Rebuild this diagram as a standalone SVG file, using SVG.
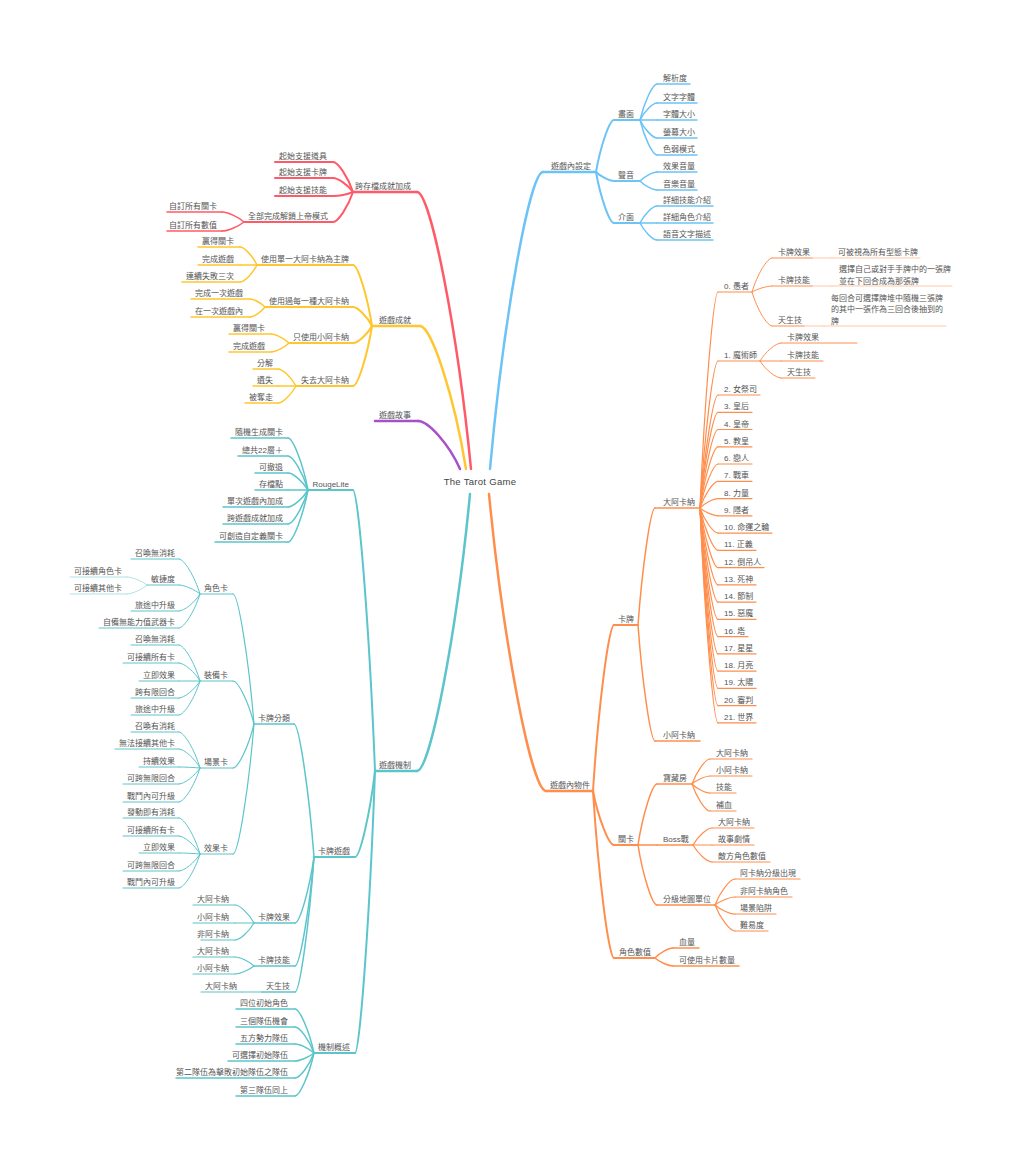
<svg xmlns="http://www.w3.org/2000/svg" width="1024" height="1169" viewBox="0 0 1024 1169">
<style>
.t{font-family:"Liberation Sans","Noto Sans CJK TC",sans-serif;font-size:8px;fill:#555}
.e{text-anchor:end}
.ctr{font-size:9.5px;fill:#444;text-anchor:middle;letter-spacing:0.3px}
path{fill:none;stroke-linecap:round}
.B{stroke:#6BC3F6}.O{stroke:#FF8E4D}.R{stroke:#FF5A67}.Y{stroke:#FFC62F}.P{stroke:#A94FC9}.G{stroke:#5CC5CC}
.w1{stroke-width:2.5}.w2{stroke-width:2}.w3{stroke-width:1.5}.w4{stroke-width:1.2}.w5{stroke-width:1}.w6{stroke-width:0.9;stroke-opacity:.55}
</style>
<rect width="1024" height="1169" fill="#fff"/>
<g id="connectors">
<path class="B w1" d="M490 469 C503.25 320.5 529.75 172 543 172"/>
<path class="O w1" d="M489 494 C503.25 642.5 531.75 791 546 791"/>
<path class="R w1" d="M471 469 C457.5 330.5 430.5 192 417 192"/>
<path class="Y w1" d="M466 469 C454.5 397.5 431.5 326 420 326"/>
<path class="P w1" d="M460 469 C449.5 445 428.5 421 418 421"/>
<path class="G w1" d="M470 494 C456.75 632.5 430.25 771 417 771"/>
<path class="B w2" d="M596 172 C600.5 146 609.5 120 614 120"/>
<path class="B w2" d="M596 172 C600.5 176.5 609.5 181 614 181"/>
<path class="B w2" d="M596 172 C600.5 197.5 609.5 223 614 223"/>
<path class="B w3" d="M640 120 C644.25 102 652.75 84 657 84"/>
<path class="B w3" d="M640 120 C644.25 111.5 652.75 103 657 103"/>
<path class="B w3" d="M640 120 H657"/>
<path class="B w3" d="M640 120 C644.25 129 652.75 138 657 138"/>
<path class="B w3" d="M640 120 C644.25 137.5 652.75 155 657 155"/>
<path class="B w3" d="M640 181 C644.25 176.5 652.75 172 657 172"/>
<path class="B w3" d="M640 181 C644.25 185.5 652.75 190 657 190"/>
<path class="B w3" d="M640 223 C644.25 214.5 652.75 206 657 206"/>
<path class="B w3" d="M640 223 H657"/>
<path class="B w3" d="M640 223 C644.25 231.5 652.75 240 657 240"/>
<path class="O w2" d="M593 791 C598.25 708 608.75 625 614 625"/>
<path class="O w2" d="M593 791 C598.25 818 608.75 845 614 845"/>
<path class="O w2" d="M593 791 C598.25 874.5 608.75 958 614 958"/>
<path class="O w3" d="M638 625 C642.25 566.5 650.75 508 655 508"/>
<path class="O w3" d="M638 625 C642.25 683 650.75 741 655 741"/>
<path class="O w3" d="M638 845 C642.75 814.5 652.25 784 657 784"/>
<path class="O w3" d="M638 845 H657"/>
<path class="O w3" d="M638 845 C642.75 875 652.25 905 657 905"/>
<path class="O w3" d="M655 958 C659.5 953 668.5 948 673 948"/>
<path class="O w3" d="M655 958 C659.5 962 668.5 966 673 966"/>
<path class="O w4" d="M700 508 C704.5 400 713.5 292 718 292"/>
<path class="O w4" d="M700 508 C704.5 434.5 713.5 361 718 361"/>
<path class="O w4" d="M700 508 C704.5 451.5 713.5 395 718 395"/>
<path class="O w4" d="M700 508 C704.5 460.2 713.5 412.3 718 412.3"/>
<path class="O w4" d="M700 508 C704.5 468.8 713.5 429.5 718 429.5"/>
<path class="O w4" d="M700 508 C704.5 477.4 713.5 446.8 718 446.8"/>
<path class="O w4" d="M700 508 C704.5 486 713.5 464 718 464"/>
<path class="O w4" d="M700 508 C704.5 494.7 713.5 481.3 718 481.3"/>
<path class="O w4" d="M700 508 C704.5 503.3 713.5 498.6 718 498.6"/>
<path class="O w4" d="M700 508 C704.5 511.9 713.5 515.8 718 515.8"/>
<path class="O w4" d="M700 508 C704.5 520.6 713.5 533.1 718 533.1"/>
<path class="O w4" d="M700 508 C704.5 529.2 713.5 550.3 718 550.3"/>
<path class="O w4" d="M700 508 C704.5 537.8 713.5 567.6 718 567.6"/>
<path class="O w4" d="M700 508 C704.5 546.5 713.5 584.9 718 584.9"/>
<path class="O w4" d="M700 508 C704.5 555.1 713.5 602.1 718 602.1"/>
<path class="O w4" d="M700 508 C704.5 563.7 713.5 619.4 718 619.4"/>
<path class="O w4" d="M700 508 C704.5 572.3 713.5 636.6 718 636.6"/>
<path class="O w4" d="M700 508 C704.5 581 713.5 653.9 718 653.9"/>
<path class="O w4" d="M700 508 C704.5 589.6 713.5 671.2 718 671.2"/>
<path class="O w4" d="M700 508 C704.5 598.2 713.5 688.4 718 688.4"/>
<path class="O w4" d="M700 508 C704.5 606.9 713.5 705.7 718 705.7"/>
<path class="O w4" d="M700 508 C704.5 615.5 713.5 722.9 718 722.9"/>
<path class="O w4" d="M692 784 C696.5 771.5 705.5 759 710 759"/>
<path class="O w4" d="M692 784 C696.5 780 705.5 776 710 776"/>
<path class="O w4" d="M692 784 C696.5 788.5 705.5 793 710 793"/>
<path class="O w4" d="M692 784 C696.5 797.5 705.5 811 710 811"/>
<path class="O w4" d="M693 845 C697.75 836.5 707.25 828 712 828"/>
<path class="O w4" d="M693 845 H712"/>
<path class="O w4" d="M693 845 C697.75 853.5 707.25 862 712 862"/>
<path class="O w4" d="M715 905 C720 892 730 879 735 879"/>
<path class="O w4" d="M715 905 C720 901 730 897 735 897"/>
<path class="O w4" d="M715 905 C720 909.5 730 914 735 914"/>
<path class="O w4" d="M715 905 C720 918 730 931 735 931"/>
<path class="O w5" d="M752 292 C757 275 767 258 772 258"/>
<path class="O w5" d="M752 292 C757 289 767 286 772 286"/>
<path class="O w5" d="M752 292 C757 309 767 326 772 326"/>
<path class="O w5" d="M760 361 C765.25 352 775.75 343 781 343"/>
<path class="O w5" d="M760 361 H781"/>
<path class="O w5" d="M760 361 C765.25 369.5 775.75 378 781 378"/>
<path class="O w6" d="M812 258 H832"/>
<path class="O w6" d="M812 286 H832"/>
<path class="O w6" d="M804 326 H824"/>
<path class="R w2" d="M353 192 C348 177 338 162 333 162"/>
<path class="R w2" d="M353 192 C348 185 338 178 333 178"/>
<path class="R w2" d="M353 192 C348 194 338 196 333 196"/>
<path class="R w2" d="M353 192 C348 207 338 222 333 222"/>
<path class="R w3" d="M244 222 C238.5 217 227.5 212 222 212"/>
<path class="R w3" d="M244 222 C238.5 226.5 227.5 231 222 231"/>
<path class="Y w2" d="M372 326 C367.25 295.5 357.75 265 353 265"/>
<path class="Y w2" d="M372 326 C367.25 316.5 357.75 307 353 307"/>
<path class="Y w2" d="M372 326 C367.25 334.5 357.75 343 353 343"/>
<path class="Y w2" d="M372 326 C367.25 356 357.75 386 353 386"/>
<path class="Y w3" d="M257 265 C252.75 256 244.25 247 240 247"/>
<path class="Y w3" d="M257 265 H240"/>
<path class="Y w3" d="M257 265 C252.75 273.5 244.25 282 240 282"/>
<path class="Y w3" d="M265 307 C261.25 303 253.75 299 250 299"/>
<path class="Y w3" d="M265 307 C261.25 312 253.75 317 250 317"/>
<path class="Y w3" d="M289 343 C284.5 338.5 275.5 334 271 334"/>
<path class="Y w3" d="M289 343 C284.5 347.5 275.5 352 271 352"/>
<path class="Y w3" d="M296 386 C291.5 377.5 282.5 369 278 369"/>
<path class="Y w3" d="M296 386 H278"/>
<path class="Y w3" d="M296 386 C291.5 394.5 282.5 403 278 403"/>
<path class="G w2" d="M375 771 C369.5 630.5 358.5 490 353 490"/>
<path class="G w2" d="M375 771 C370 814 360 857 355 857"/>
<path class="G w2" d="M375 771 C370 912 360 1053 355 1053"/>
<path class="G w3" d="M308 490 C303 464 293 438 288 438"/>
<path class="G w3" d="M308 490 C303 473 293 456 288 456"/>
<path class="G w3" d="M308 490 C303 481.5 293 473 288 473"/>
<path class="G w3" d="M308 490 H288"/>
<path class="G w3" d="M308 490 C303 498.5 293 507 288 507"/>
<path class="G w3" d="M308 490 C303 507 293 524 288 524"/>
<path class="G w3" d="M308 490 C303 516 293 542 288 542"/>
<path class="G w3" d="M314 857 C309 790.5 299 724 294 724"/>
<path class="G w3" d="M314 857 C309.25 890 299.75 923 295 923"/>
<path class="G w3" d="M314 857 C309.25 911.5 299.75 966 295 966"/>
<path class="G w3" d="M314 857 C309.25 924.5 299.75 992 295 992"/>
<path class="G w3" d="M314 1053 C309.25 1031 299.75 1009 295 1009"/>
<path class="G w3" d="M314 1053 C309.25 1040 299.75 1027 295 1027"/>
<path class="G w3" d="M314 1053 C309.25 1048.5 299.75 1044 295 1044"/>
<path class="G w3" d="M314 1053 C309.25 1057 299.75 1061 295 1061"/>
<path class="G w3" d="M314 1053 C309.25 1065.5 299.75 1078 295 1078"/>
<path class="G w3" d="M314 1053 C309.25 1074.5 299.75 1096 295 1096"/>
<path class="G w4" d="M254 724 C248.75 659 238.25 594 233 594"/>
<path class="G w4" d="M254 724 C248.75 702.5 238.25 681 233 681"/>
<path class="G w4" d="M254 724 C248.75 746 238.25 768 233 768"/>
<path class="G w4" d="M254 724 C248.75 789 238.25 854 233 854"/>
<path class="G w4" d="M254 923 C249.25 914 239.75 905 235 905"/>
<path class="G w4" d="M254 923 H235"/>
<path class="G w4" d="M254 923 C249.25 931.5 239.75 940 235 940"/>
<path class="G w4" d="M254 966 C249.25 961.5 239.75 957 235 957"/>
<path class="G w4" d="M254 966 C249.25 970 239.75 974 235 974"/>
<path class="G w4" d="M262 992 H242"/>
<path class="G w5" d="M200 594 C194.75 576.5 184.25 559 179 559"/>
<path class="G w5" d="M200 594 C194.75 589.5 184.25 585 179 585"/>
<path class="G w5" d="M200 594 C194.75 602.5 184.25 611 179 611"/>
<path class="G w5" d="M200 594 C194.75 611 184.25 628 179 628"/>
<path class="G w5" d="M200 681 C194.75 663 184.25 645 179 645"/>
<path class="G w5" d="M200 681 C194.75 672 184.25 663 179 663"/>
<path class="G w5" d="M200 681 H179"/>
<path class="G w5" d="M200 681 C194.75 689.5 184.25 698 179 698"/>
<path class="G w5" d="M200 681 C194.75 698 184.25 715 179 715"/>
<path class="G w5" d="M200 768 C194.75 750 184.25 732 179 732"/>
<path class="G w5" d="M200 768 C194.75 758.5 184.25 749 179 749"/>
<path class="G w5" d="M200 768 C194.75 767.5 184.25 767 179 767"/>
<path class="G w5" d="M200 768 C194.75 776 184.25 784 179 784"/>
<path class="G w5" d="M200 768 C194.75 785 184.25 802 179 802"/>
<path class="G w5" d="M200 854 C194.75 836 184.25 818 179 818"/>
<path class="G w5" d="M200 854 C194.75 845 184.25 836 179 836"/>
<path class="G w5" d="M200 854 C194.75 853.5 184.25 853 179 853"/>
<path class="G w5" d="M200 854 C194.75 862.5 184.25 871 179 871"/>
<path class="G w5" d="M200 854 C194.75 871 184.25 888 179 888"/>
<path class="G w6" d="M147 585 C142 581 132 577 127 577"/>
<path class="G w6" d="M147 585 C142 589.5 132 594 127 594"/>
</g>
<g id="n-root"><text class="t ctr" x="480" y="485">The Tarot Game</text></g>
<g id="n-settings"><path class="B w1" d="M543 172H596"/><text class="t" x="551" y="169">遊戲內設定</text></g>
<g id="n-screen"><path class="B w2" d="M614 120H640"/><text class="t" x="618" y="117">畫面</text></g>
<g id="n-sound"><path class="B w2" d="M614 181H640"/><text class="t" x="618" y="178">聲音</text></g>
<g id="n-ui"><path class="B w2" d="M614 223H640"/><text class="t" x="618" y="220">介面</text></g>
<g id="n-res"><path class="B w3" d="M657 84H690"/><text class="t" x="663" y="81">解析度</text></g>
<g id="n-font"><path class="B w3" d="M657 103H697"/><text class="t" x="663" y="100">文字字體</text></g>
<g id="n-fsize"><path class="B w3" d="M657 120H697"/><text class="t" x="663" y="117">字體大小</text></g>
<g id="n-ssize"><path class="B w3" d="M657 138H697"/><text class="t" x="663" y="135">螢幕大小</text></g>
<g id="n-cb"><path class="B w3" d="M657 155H697"/><text class="t" x="663" y="152">色弱模式</text></g>
<g id="n-sfx"><path class="B w3" d="M657 172H697"/><text class="t" x="663" y="169">效果音量</text></g>
<g id="n-music"><path class="B w3" d="M657 190H697"/><text class="t" x="663" y="187">音樂音量</text></g>
<g id="n-skillinfo"><path class="B w3" d="M657 206H713"/><text class="t" x="663" y="203">詳細技能介紹</text></g>
<g id="n-charinfo"><path class="B w3" d="M657 223H713"/><text class="t" x="663" y="220">詳細角色介紹</text></g>
<g id="n-voice"><path class="B w3" d="M657 240H713"/><text class="t" x="663" y="237">語音文字描述</text></g>
<g id="n-objects"><path class="O w1" d="M546 791H593"/><text class="t" x="550" y="788">遊戲內物件</text></g>
<g id="n-cards"><path class="O w2" d="M614 625H638"/><text class="t" x="618" y="622">卡牌</text></g>
<g id="n-levels"><path class="O w2" d="M614 845H638"/><text class="t" x="618" y="842">關卡</text></g>
<g id="n-stats"><path class="O w2" d="M614 958H655"/><text class="t" x="619" y="955">角色數值</text></g>
<g id="n-major"><path class="O w3" d="M655 508H700"/><text class="t" x="663" y="505">大阿卡納</text></g>
<g id="n-minor"><path class="O w3" d="M655 741H700"/><text class="t" x="663" y="738">小阿卡納</text></g>
<g id="n-t0"><path class="O w4" d="M718 292H752"/><text class="t" x="724" y="289">0. 愚者</text></g>
<g id="n-t1"><path class="O w4" d="M718 361H760"/><text class="t" x="724" y="358">1. 魔術師</text></g>
<g id="n-t2"><path class="O w4" d="M718 395H760"/><text class="t" x="724" y="392">2. 女祭司</text></g>
<g id="n-t3"><path class="O w4" d="M718 412.3H752"/><text class="t" x="724" y="409.3">3. 皇后</text></g>
<g id="n-t4"><path class="O w4" d="M718 429.5H752"/><text class="t" x="724" y="426.5">4. 皇帝</text></g>
<g id="n-t5"><path class="O w4" d="M718 446.8H752"/><text class="t" x="724" y="443.8">5. 教皇</text></g>
<g id="n-t6"><path class="O w4" d="M718 464H752"/><text class="t" x="724" y="461">6. 戀人</text></g>
<g id="n-t7"><path class="O w4" d="M718 481.3H752"/><text class="t" x="724" y="478.3">7. 戰車</text></g>
<g id="n-t8"><path class="O w4" d="M718 498.6H752"/><text class="t" x="724" y="495.6">8. 力量</text></g>
<g id="n-t9"><path class="O w4" d="M718 515.8H752"/><text class="t" x="724" y="512.8">9. 隱者</text></g>
<g id="n-t10"><path class="O w4" d="M718 533.1H772"/><text class="t" x="724" y="530.1">10. 命運之輪</text></g>
<g id="n-t11"><path class="O w4" d="M718 550.3H756"/><text class="t" x="724" y="547.3">11. 正義</text></g>
<g id="n-t12"><path class="O w4" d="M718 567.6H764"/><text class="t" x="724" y="564.6">12. 倒吊人</text></g>
<g id="n-t13"><path class="O w4" d="M718 584.9H756"/><text class="t" x="724" y="581.9">13. 死神</text></g>
<g id="n-t14"><path class="O w4" d="M718 602.1H756"/><text class="t" x="724" y="599.1">14. 節制</text></g>
<g id="n-t15"><path class="O w4" d="M718 619.4H756"/><text class="t" x="724" y="616.4">15. 惡魔</text></g>
<g id="n-t16"><path class="O w4" d="M718 636.6H748"/><text class="t" x="724" y="633.6">16. 塔</text></g>
<g id="n-t17"><path class="O w4" d="M718 653.9H756"/><text class="t" x="724" y="650.9">17. 星星</text></g>
<g id="n-t18"><path class="O w4" d="M718 671.2H756"/><text class="t" x="724" y="668.2">18. 月亮</text></g>
<g id="n-t19"><path class="O w4" d="M718 688.4H756"/><text class="t" x="724" y="685.4">19. 太陽</text></g>
<g id="n-t20"><path class="O w4" d="M718 705.7H756"/><text class="t" x="724" y="702.7">20. 審判</text></g>
<g id="n-t21"><path class="O w4" d="M718 722.9H756"/><text class="t" x="724" y="719.9">21. 世界</text></g>
<g id="n-t0-eff"><path class="O w5" d="M772 258H812"/><text class="t" x="778" y="255">卡牌效果</text></g>
<g id="n-t0-skill"><path class="O w5" d="M772 286H812"/><text class="t" x="778" y="283">卡牌技能</text></g>
<g id="n-t0-innate"><path class="O w5" d="M772 326H804"/><text class="t" x="778" y="323">天生技</text></g>
<g id="n-t0-eff-d"><path class="O w6" d="M832 258H920"/><text class="t" x="838" y="255">可被視為所有型態卡牌</text></g>
<g id="n-t0-skill-d"><path class="O w6" d="M832 286H952"/><text class="t" x="839" y="272"><tspan x="839">選擇自己或對手手牌中的一張牌</tspan><tspan x="839" dy="11.5">並在下回合成為那張牌</tspan></text></g>
<g id="n-t0-innate-d"><path class="O w6" d="M824 326H946"/><text class="t" x="831" y="300.5"><tspan x="831">每回合可選擇牌堆中隨機三張牌</tspan><tspan x="831" dy="11.5">的其中一張作為三回合後抽到的</tspan><tspan x="831" dy="11.5">牌</tspan></text></g>
<g id="n-t1-eff"><path class="O w5" d="M781 343H857"/><text class="t" x="787" y="340">卡牌效果</text></g>
<g id="n-t1-skill"><path class="O w5" d="M781 361H823"/><text class="t" x="787" y="358">卡牌技能</text></g>
<g id="n-t1-innate"><path class="O w5" d="M781 378H815"/><text class="t" x="787" y="375">天生技</text></g>
<g id="n-treasure"><path class="O w3" d="M657 784H692"/><text class="t" x="663" y="781">寶藏房</text></g>
<g id="n-boss"><path class="O w3" d="M657 845H693"/><text class="t" x="663" y="842">Boss戰</text></g>
<g id="n-mapunit"><path class="O w3" d="M657 905H715"/><text class="t" x="663" y="902">分級地圖單位</text></g>
<g id="n-tr-major"><path class="O w4" d="M710 759H752"/><text class="t" x="716" y="756">大阿卡納</text></g>
<g id="n-tr-minor"><path class="O w4" d="M710 776H752"/><text class="t" x="716" y="773">小阿卡納</text></g>
<g id="n-tr-skill"><path class="O w4" d="M710 793H736"/><text class="t" x="716" y="790">技能</text></g>
<g id="n-tr-heal"><path class="O w4" d="M710 811H736"/><text class="t" x="716" y="808">補血</text></g>
<g id="n-boss-major"><path class="O w4" d="M712 828H754"/><text class="t" x="718" y="825">大阿卡納</text></g>
<g id="n-boss-story"><path class="O w4" d="M712 845H754"/><text class="t" x="718" y="842">故事劇情</text></g>
<g id="n-boss-enemy"><path class="O w4" d="M712 862H770"/><text class="t" x="718" y="859">敵方角色數值</text></g>
<g id="n-mu-arcana"><path class="O w4" d="M735 879H800"/><text class="t" x="740" y="876">阿卡納分級出現</text></g>
<g id="n-mu-non"><path class="O w4" d="M735 897H792"/><text class="t" x="740" y="894">非阿卡納角色</text></g>
<g id="n-mu-trap"><path class="O w4" d="M735 914H776"/><text class="t" x="740" y="911">場景陷阱</text></g>
<g id="n-mu-diff"><path class="O w4" d="M735 931H768"/><text class="t" x="740" y="928">難易度</text></g>
<g id="n-hp"><path class="O w3" d="M673 948H699"/><text class="t" x="679" y="945">血量</text></g>
<g id="n-cardcount"><path class="O w3" d="M673 966H739"/><text class="t" x="679" y="963">可使用卡片數量</text></g>
<g id="n-cross"><path class="R w1" d="M353 192H417"/><text class="t e" x="411" y="189">跨存檔成就加成</text></g>
<g id="n-cr1"><path class="R w2" d="M275 162H333"/><text class="t e" x="327" y="159">起始支援道具</text></g>
<g id="n-cr2"><path class="R w2" d="M275 178H333"/><text class="t e" x="327" y="175">起始支援卡牌</text></g>
<g id="n-cr3"><path class="R w2" d="M275 196H333"/><text class="t e" x="327" y="193">起始支援技能</text></g>
<g id="n-cr4"><path class="R w2" d="M244 222H333"/><text class="t e" x="328" y="219">全部完成解鎖上帝模式</text></g>
<g id="n-cr4a"><path class="R w3" d="M167 212H222"/><text class="t e" x="217" y="209">自訂所有關卡</text></g>
<g id="n-cr4b"><path class="R w3" d="M167 231H222"/><text class="t e" x="217" y="228">自訂所有數值</text></g>
<g id="n-ach"><path class="Y w1" d="M372 326H420"/><text class="t e" x="411" y="323">遊戲成就</text></g>
<g id="n-a1"><path class="Y w2" d="M257 265H353"/><text class="t e" x="349" y="262">使用單一大阿卡納為主牌</text></g>
<g id="n-a2"><path class="Y w2" d="M265 307H353"/><text class="t e" x="349" y="304">使用過每一種大阿卡納</text></g>
<g id="n-a3"><path class="Y w2" d="M289 343H353"/><text class="t e" x="349" y="340">只使用小阿卡納</text></g>
<g id="n-a4"><path class="Y w2" d="M296 386H353"/><text class="t e" x="349" y="383">失去大阿卡納</text></g>
<g id="n-a1a"><path class="Y w3" d="M198 247H240"/><text class="t e" x="234" y="244">贏得關卡</text></g>
<g id="n-a1b"><path class="Y w3" d="M198 265H240"/><text class="t e" x="234" y="262">完成遊戲</text></g>
<g id="n-a1c"><path class="Y w3" d="M182 282H240"/><text class="t e" x="234" y="279">連續失敗三次</text></g>
<g id="n-a2a"><path class="Y w3" d="M191 299H250"/><text class="t e" x="243" y="296">完成一次遊戲</text></g>
<g id="n-a2b"><path class="Y w3" d="M191 317H250"/><text class="t e" x="243" y="314">在一次遊戲內</text></g>
<g id="n-a3a"><path class="Y w3" d="M229 334H271"/><text class="t e" x="265" y="331">贏得關卡</text></g>
<g id="n-a3b"><path class="Y w3" d="M229 352H271"/><text class="t e" x="265" y="349">完成遊戲</text></g>
<g id="n-a4a"><path class="Y w3" d="M253 369H278"/><text class="t e" x="273" y="366">分解</text></g>
<g id="n-a4b"><path class="Y w3" d="M253 386H278"/><text class="t e" x="273" y="383">遺失</text></g>
<g id="n-a4c"><path class="Y w3" d="M245 403H278"/><text class="t e" x="273" y="400">被奪走</text></g>
<g id="n-story"><path class="P w1" d="M375 421H418"/><text class="t e" x="411" y="418">遊戲故事</text></g>
<g id="n-mech"><path class="G w1" d="M375 771H417"/><text class="t e" x="411" y="768">遊戲機制</text></g>
<g id="n-rogue"><path class="G w2" d="M308 490H353"/><text class="t e" x="349" y="487">RougeLite</text></g>
<g id="n-r1"><path class="G w3" d="M231 438H288"/><text class="t e" x="283" y="435">隨機生成關卡</text></g>
<g id="n-r2"><path class="G w3" d="M238 456H288"/><text class="t e" x="283" y="453">總共22層＋</text></g>
<g id="n-r3"><path class="G w3" d="M255 473H288"/><text class="t e" x="283" y="470">可撤退</text></g>
<g id="n-r4"><path class="G w3" d="M255 490H288"/><text class="t e" x="283" y="487">存檔點</text></g>
<g id="n-r5"><path class="G w3" d="M223 507H288"/><text class="t e" x="283" y="504">單次遊戲內加成</text></g>
<g id="n-r6"><path class="G w3" d="M223 524H288"/><text class="t e" x="283" y="521">跨遊戲成就加成</text></g>
<g id="n-r7"><path class="G w3" d="M215 542H288"/><text class="t e" x="283" y="539">可創造自定義關卡</text></g>
<g id="n-cardgame"><path class="G w2" d="M314 857H355"/><text class="t e" x="350" y="854">卡牌遊戲</text></g>
<g id="n-cardtype"><path class="G w3" d="M254 724H294"/><text class="t e" x="290" y="721">卡牌分類</text></g>
<g id="n-chr"><path class="G w4" d="M200 594H233"/><text class="t e" x="228" y="591">角色卡</text></g>
<g id="n-equ"><path class="G w4" d="M200 681H233"/><text class="t e" x="228" y="678">裝備卡</text></g>
<g id="n-scn"><path class="G w4" d="M200 768H233"/><text class="t e" x="228" y="765">場景卡</text></g>
<g id="n-eff"><path class="G w4" d="M200 854H233"/><text class="t e" x="228" y="851">效果卡</text></g>
<g id="n-chr1"><path class="G w5" d="M131 559H179"/><text class="t e" x="175" y="556">召喚無消耗</text></g>
<g id="n-chr2"><path class="G w5" d="M147 585H179"/><text class="t e" x="175" y="582">敏捷度</text></g>
<g id="n-chr2a"><path class="G w6" d="M70 577H127"/><text class="t e" x="122" y="574">可接續角色卡</text></g>
<g id="n-chr2b"><path class="G w6" d="M70 594H127"/><text class="t e" x="122" y="591">可接續其他卡</text></g>
<g id="n-chr3"><path class="G w5" d="M131 611H179"/><text class="t e" x="175" y="608">旅途中升級</text></g>
<g id="n-chr4"><path class="G w5" d="M99 628H179"/><text class="t e" x="175" y="625">自備無能力值武器卡</text></g>
<g id="n-equ1"><path class="G w5" d="M131 645H179"/><text class="t e" x="175" y="642">召喚無消耗</text></g>
<g id="n-equ2"><path class="G w5" d="M123 663H179"/><text class="t e" x="175" y="660">可接續所有卡</text></g>
<g id="n-equ3"><path class="G w5" d="M139 681H179"/><text class="t e" x="175" y="678">立即效果</text></g>
<g id="n-equ4"><path class="G w5" d="M131 698H179"/><text class="t e" x="175" y="695">跨有限回合</text></g>
<g id="n-equ5"><path class="G w5" d="M131 715H179"/><text class="t e" x="175" y="712">旅途中升級</text></g>
<g id="n-scn1"><path class="G w5" d="M131 732H179"/><text class="t e" x="175" y="729">召喚有消耗</text></g>
<g id="n-scn2"><path class="G w5" d="M115 749H179"/><text class="t e" x="175" y="746">無法接續其他卡</text></g>
<g id="n-scn3"><path class="G w5" d="M139 767H179"/><text class="t e" x="175" y="764">持續效果</text></g>
<g id="n-scn4"><path class="G w5" d="M123 784H179"/><text class="t e" x="175" y="781">可跨無限回合</text></g>
<g id="n-scn5"><path class="G w5" d="M123 802H179"/><text class="t e" x="175" y="799">戰鬥內可升級</text></g>
<g id="n-eff1"><path class="G w5" d="M123 818H179"/><text class="t e" x="175" y="815">發動即有消耗</text></g>
<g id="n-eff2"><path class="G w5" d="M123 836H179"/><text class="t e" x="175" y="833">可接續所有卡</text></g>
<g id="n-eff3"><path class="G w5" d="M139 853H179"/><text class="t e" x="175" y="850">立即效果</text></g>
<g id="n-eff4"><path class="G w5" d="M123 871H179"/><text class="t e" x="175" y="868">可跨無限回合</text></g>
<g id="n-eff5"><path class="G w5" d="M123 888H179"/><text class="t e" x="175" y="885">戰鬥內可升級</text></g>
<g id="n-ceff"><path class="G w3" d="M254 923H295"/><text class="t e" x="290" y="920">卡牌效果</text></g>
<g id="n-ceff1"><path class="G w4" d="M193 905H235"/><text class="t e" x="229" y="902">大阿卡納</text></g>
<g id="n-ceff2"><path class="G w4" d="M193 923H235"/><text class="t e" x="229" y="920">小阿卡納</text></g>
<g id="n-ceff3"><path class="G w4" d="M201 940H235"/><text class="t e" x="229" y="937">非阿卡納</text></g>
<g id="n-cskill"><path class="G w3" d="M254 966H295"/><text class="t e" x="290" y="963">卡牌技能</text></g>
<g id="n-cskill1"><path class="G w4" d="M193 957H235"/><text class="t e" x="229" y="954">大阿卡納</text></g>
<g id="n-cskill2"><path class="G w4" d="M193 974H235"/><text class="t e" x="229" y="971">小阿卡納</text></g>
<g id="n-cinnate"><path class="G w3" d="M262 992H295"/><text class="t e" x="290" y="989">天生技</text></g>
<g id="n-cinnate1"><path class="G w4" d="M201 992H242"/><text class="t e" x="237" y="989">大阿卡納</text></g>
<g id="n-overview"><path class="G w2" d="M314 1053H355"/><text class="t e" x="350" y="1050">機制概述</text></g>
<g id="n-ov1"><path class="G w3" d="M236 1009H295"/><text class="t e" x="288" y="1006">四位初始角色</text></g>
<g id="n-ov2"><path class="G w3" d="M236 1027H295"/><text class="t e" x="288" y="1024">三個隊伍機會</text></g>
<g id="n-ov3"><path class="G w3" d="M236 1044H295"/><text class="t e" x="288" y="1041">五方勢力隊伍</text></g>
<g id="n-ov4"><path class="G w3" d="M228 1061H295"/><text class="t e" x="288" y="1058">可選擇初始隊伍</text></g>
<g id="n-ov5"><path class="G w3" d="M176 1078H295"/><text class="t e" x="288" y="1075">第二隊伍為擊敗初始隊伍之隊伍</text></g>
<g id="n-ov6"><path class="G w3" d="M236 1096H295"/><text class="t e" x="288" y="1093">第三隊伍同上</text></g>
</svg>
